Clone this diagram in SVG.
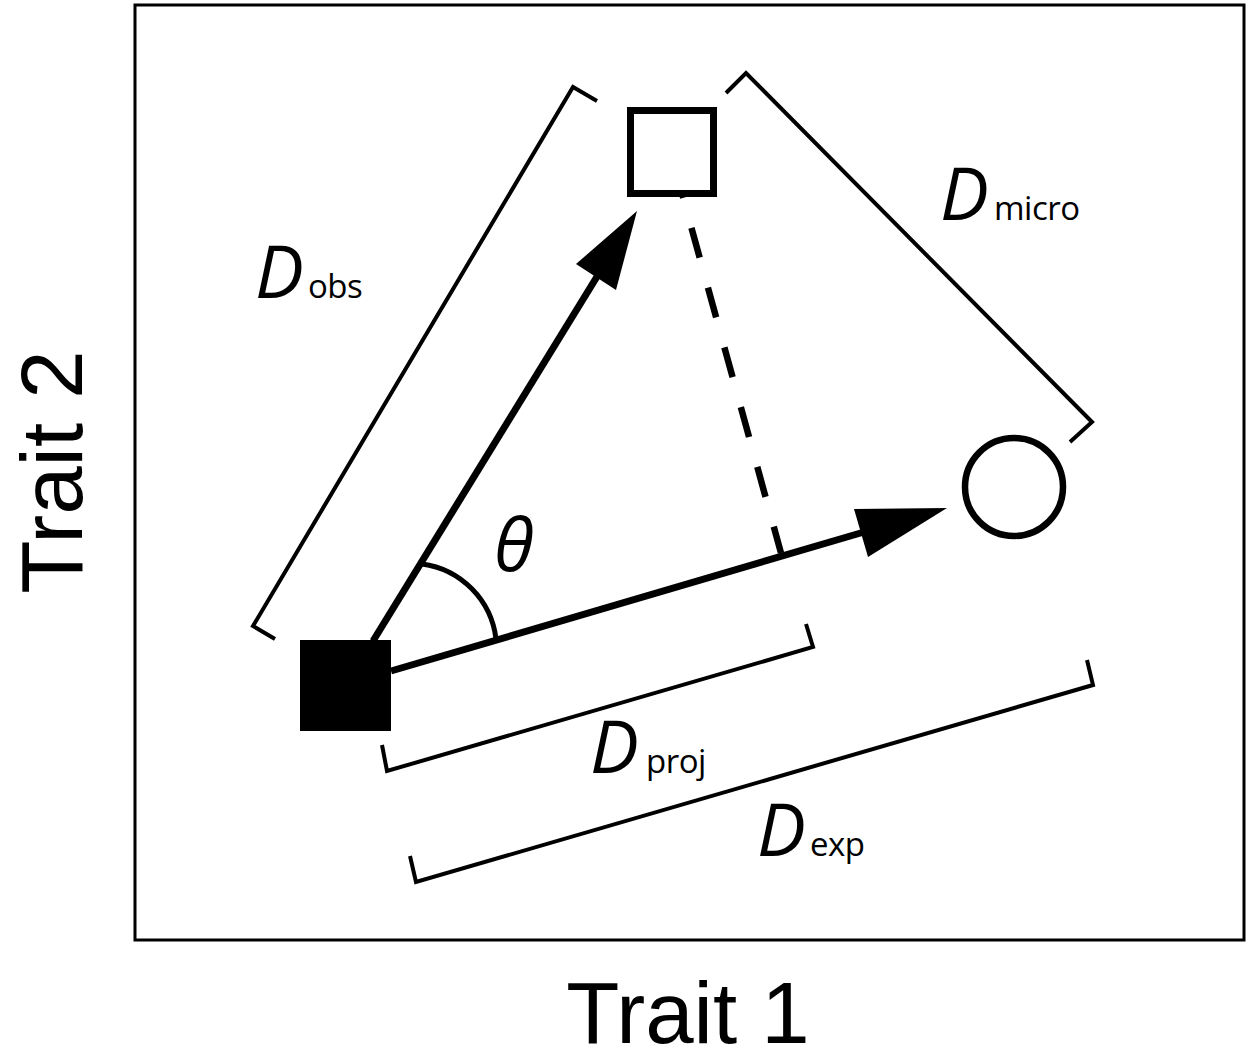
<svg xmlns="http://www.w3.org/2000/svg" width="1248" height="1061" viewBox="0 0 1248 1061">
  <style>
    .frame { fill: none; stroke: #000; stroke-width: 3; }
    .bracket { fill: none; stroke: #000; stroke-width: 4; stroke-linejoin: miter; }
    .arrow { fill: none; stroke: #000; stroke-width: 7; }
    .head { fill: #000; stroke: none; }
    .dash { fill: none; stroke: #000; stroke-width: 6.5; stroke-dasharray: 31 31; }
    .arc { fill: none; stroke: #000; stroke-width: 5; }
    .lbl { font-family: "Open Sans", "Noto Sans", sans-serif; fill: #000; }
    .big { font-size: 73px; font-style: italic; }
    .sub { font-size: 33px; font-style: normal; letter-spacing: -0.5px; }
    .axis { font-family: "Liberation Sans", Arial, sans-serif; font-size: 87px; fill: #000; }
  </style>
  <rect x="0" y="0" width="1248" height="1061" fill="#fff"/>
  <rect class="frame" x="135" y="5" width="1109" height="935"/>

  <g id="connectors">
    <line class="dash" x1="675" y1="168" x2="781" y2="553"/>
    <line class="arrow" x1="373" y1="641" x2="598" y2="275"/>
    <polygon class="head" points="637,211 576,264 616,290"/>
    <line class="arrow" x1="391" y1="671" x2="864" y2="532"/>
    <polygon class="head" points="947,508 854,509 868,557"/>
    <path class="arc" d="M422,564 A86,86 0 0 1 496,639"/>
  </g>

  <g id="brackets">
    <polyline id="bracket-obs" class="bracket" points="597,101 573,87 253,626 275,639"/>
    <polyline id="bracket-micro" class="bracket" points="726,93 746,73 1092,422 1070,442"/>
    <polyline id="bracket-proj" class="bracket" points="382,745 387,771 813,647 806,624"/>
    <polyline id="bracket-exp" class="bracket" points="410,856 416,882 1093,685 1087,660"/>
  </g>

  <g id="node-start">
    <rect x="300" y="640" width="91" height="91" fill="#000"/>
  </g>
  <g id="node-observed">
    <rect x="630.5" y="110.5" width="83" height="83" fill="#fff" stroke="#000" stroke-width="7"/>
  </g>
  <g id="node-expected">
    <circle cx="1014" cy="487" r="49" fill="#fff" stroke="#000" stroke-width="6.5"/>
  </g>

  <g id="labels">
    <text class="lbl big" x="514" y="571" text-anchor="middle">θ</text>
    <text class="lbl big" x="255" y="298">D</text>
    <text class="lbl sub" x="308" y="298">obs</text>
    <text class="lbl big" x="940" y="220">D</text>
    <text class="lbl sub" x="994" y="220">micro</text>
    <text class="lbl big" x="590" y="773">D</text>
    <text class="lbl sub" x="646" y="773">proj</text>
    <text class="lbl big" x="757" y="856">D</text>
    <text class="lbl sub" x="810" y="856">exp</text>
  </g>

  <g id="axes">
    <text class="axis" x="688" y="1043" text-anchor="middle">Trait 1</text>
    <text class="axis" x="0" y="0" text-anchor="middle" transform="translate(82,472) rotate(-90)">Trait 2</text>
  </g>
</svg>
